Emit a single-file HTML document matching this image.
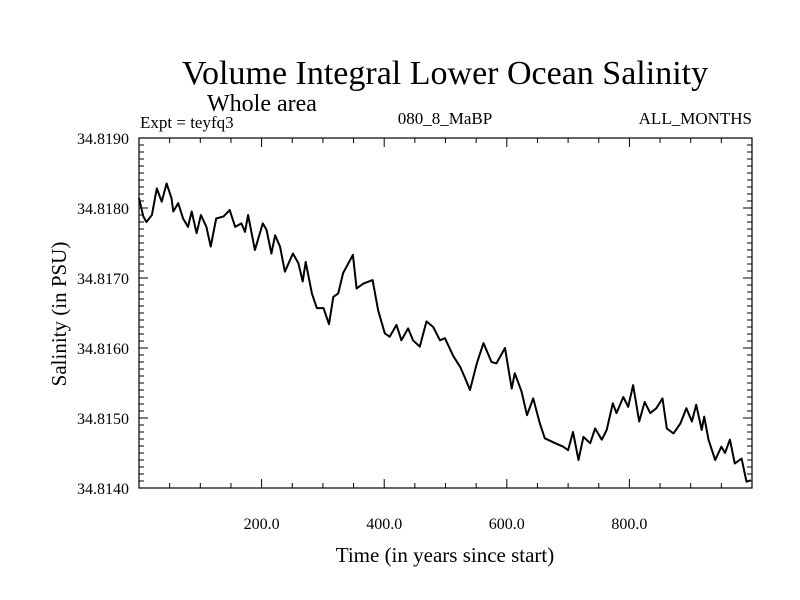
<!DOCTYPE html>
<html><head><meta charset="utf-8"><style>
body{margin:0;background:#fff}
svg{display:block;font-family:"Liberation Serif",serif}
</style></head><body>
<svg id="chart" width="800" height="600">
<text x="445" y="84" font-size="34" text-anchor="middle">Volume Integral Lower Ocean Salinity</text>
<text x="207" y="111" font-size="24">Whole area</text>
<text x="140" y="128" font-size="17">Expt = teyfq3</text>
<text x="445" y="124" font-size="17" text-anchor="middle">080_8_MaBP</text>
<text x="752" y="124" font-size="17" text-anchor="end">ALL_MONTHS</text>
<text x="445" y="562" font-size="21" text-anchor="middle">Time (in years since start)</text>
<text transform="translate(66,314) rotate(-90)" font-size="21" text-anchor="middle">Salinity (in PSU)</text>
<g id="axes"></g>
<path id="line" fill="none" stroke="#000" stroke-width="2" stroke-linejoin="round"></path>
<rect x="139" y="138" width="613" height="350" fill="none" stroke="#000" stroke-width="1.2"></rect>
</svg>
<script>
const years=[0,7,12,21,29,37,45,53,56,64,72,80,86,94,101,110,117,126,138,148,157,167,173,178,189,202,208,216,222,230,238,251,260,267,272,282,290,301,310,317,325,333,349,355,366,381,390,401,409,420,428,439,447,458,469,480,491,499,513,524,532,540,551,562,575,583,597,608,613,624,633,643,654,662,679,692,700,708,717,725,736,744,755,763,773,779,790,798,806,816,825,834,844,854,861,872,883,893,902,909,918,922,929,940,950,956,964,972,983,991,998];
const salinity=[34.81814,34.81788,34.8178,34.8179,34.81828,34.81809,34.81835,34.81814,34.81795,34.81807,34.81785,34.81773,34.81795,34.81764,34.8179,34.81773,34.81745,34.81785,34.81788,34.81797,34.81773,34.81778,34.81766,34.8179,34.8174,34.81778,34.81769,34.81735,34.81761,34.81745,34.81709,34.81735,34.81721,34.81695,34.81723,34.81678,34.81657,34.81657,34.81634,34.81673,34.81678,34.81707,34.81733,34.81685,34.81692,34.81697,34.81654,34.81621,34.81616,34.81633,34.81611,34.81628,34.81611,34.81602,34.81638,34.8163,34.81611,34.81614,34.81588,34.81573,34.81557,34.8154,34.81578,34.81607,34.8158,34.81578,34.816,34.81542,34.81564,34.81538,34.81504,34.81528,34.81492,34.81471,34.81464,34.81459,34.81454,34.8148,34.8144,34.81473,34.81464,34.81485,34.81469,34.81483,34.81521,34.81507,34.8153,34.81516,34.81547,34.81495,34.81523,34.81507,34.81514,34.81528,34.81485,34.81478,34.81492,34.81514,34.81495,34.81519,34.81483,34.81502,34.81469,34.8144,34.81459,34.8145,34.81469,34.81435,34.81442,34.81409,34.81411];
const xTickLabels=["200.0","400.0","600.0","800.0"];
const xTickValues=[200,400,600,800];
const yTickLabels=["34.8140","34.8150","34.8160","34.8170","34.8180","34.8190"];
const yTickValues=[34.814,34.815,34.816,34.817,34.818,34.819];
const L=139,R=752,T=138,B=488,XMIN=0,XMAX=1000,YMIN=34.814,YMAX=34.819;
const sx=v=>L+(v-XMIN)/(XMAX-XMIN)*(R-L);
const sy=v=>B-(v-YMIN)/(YMAX-YMIN)*(B-T);
const NS="http://www.w3.org/2000/svg";
const ax=document.getElementById('axes');
function ln(x1,y1,x2,y2,name){const e=document.createElementNS(NS,'line');e.setAttribute('x1',x1);e.setAttribute('y1',y1);e.setAttribute('x2',x2);e.setAttribute('y2',y2);e.setAttribute('stroke','#000');e.setAttribute('stroke-width','1');


ax.appendChild(e);}
function tx(x,y,s,anchor,name){const e=document.createElementNS(NS,'text');e.setAttribute('x',x);e.setAttribute('y',y);e.setAttribute('font-size','16');e.setAttribute('text-anchor',anchor);e.textContent=s;


ax.appendChild(e);}
for(let v=50;v<1000;v+=50){const x=sx(v);const len=v%200===0?9:5;ln(x,B,x,B-len,'x-tick');ln(x,T,x,T+len,'x-tick-top');}
for(let i=1;i<50;i++){const v=YMIN+i*0.0001;const y=sy(v);const len=i%10===0?9:5;ln(L,y,L+len,y,'y-tick');ln(R,y,R-len,y,'y-tick-right');}
xTickValues.forEach((v,i)=>tx(sx(v),529,xTickLabels[i],'middle','x-tick-label'));
yTickValues.forEach((v,i)=>tx(129,sy(v)+6,yTickLabels[i],'end','y-tick-label'));
let d='';years.forEach((y,i)=>{d+=(i?'L':'M')+sx(y).toFixed(1)+','+sy(salinity[i]).toFixed(1);});
document.getElementById('line').setAttribute('d',d);
</script>
</body></html>
